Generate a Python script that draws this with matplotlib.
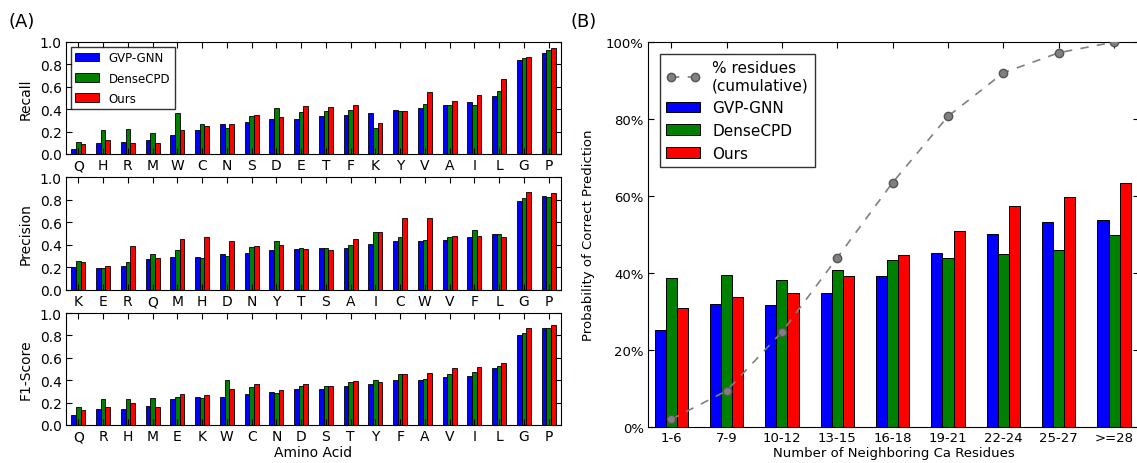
import matplotlib
matplotlib.use('Agg')
import matplotlib.pyplot as plt
import numpy as np

# Panel A: per-residue metrics
recall_aa = ['Q', 'H', 'R', 'M', 'W', 'C', 'N', 'S', 'D', 'E', 'T', 'F', 'K', 'Y', 'V', 'A', 'I', 'L', 'G', 'P']
recall_gvp = [0.045, 0.095, 0.11, 0.125, 0.17, 0.215, 0.27, 0.285, 0.315, 0.315, 0.335, 0.35, 0.365, 0.39, 0.415, 0.44, 0.465, 0.52, 0.84, 0.905]
recall_dense = [0.11, 0.21, 0.225, 0.19, 0.37, 0.27, 0.23, 0.335, 0.41, 0.375, 0.385, 0.395, 0.235, 0.38, 0.45, 0.44, 0.435, 0.56, 0.855, 0.93]
recall_ours = [0.09, 0.125, 0.10, 0.10, 0.215, 0.25, 0.265, 0.345, 0.33, 0.43, 0.42, 0.435, 0.28, 0.38, 0.55, 0.475, 0.53, 0.67, 0.865, 0.945]

prec_aa = ['K', 'E', 'R', 'Q', 'M', 'H', 'D', 'N', 'Y', 'T', 'S', 'A', 'I', 'C', 'W', 'V', 'F', 'L', 'G', 'P']
prec_gvp = [0.20, 0.195, 0.21, 0.275, 0.295, 0.295, 0.32, 0.33, 0.35, 0.365, 0.375, 0.375, 0.41, 0.43, 0.43, 0.44, 0.465, 0.50, 0.785, 0.835]
prec_dense = [0.255, 0.195, 0.245, 0.32, 0.355, 0.285, 0.305, 0.38, 0.43, 0.37, 0.375, 0.40, 0.51, 0.47, 0.445, 0.465, 0.535, 0.50, 0.81, 0.82]
prec_ours = [0.25, 0.21, 0.39, 0.28, 0.455, 0.465, 0.43, 0.39, 0.40, 0.365, 0.355, 0.455, 0.515, 0.635, 0.635, 0.48, 0.48, 0.47, 0.87, 0.86]

f1_aa = ['Q', 'R', 'H', 'M', 'E', 'K', 'W', 'C', 'N', 'D', 'S', 'T', 'Y', 'F', 'A', 'V', 'I', 'L', 'G', 'P']
f1_gvp = [0.085, 0.145, 0.145, 0.17, 0.235, 0.25, 0.25, 0.28, 0.295, 0.32, 0.32, 0.35, 0.365, 0.40, 0.40, 0.43, 0.435, 0.505, 0.805, 0.865]
f1_dense = [0.16, 0.23, 0.23, 0.24, 0.25, 0.24, 0.405, 0.34, 0.285, 0.35, 0.35, 0.38, 0.40, 0.455, 0.41, 0.455, 0.47, 0.53, 0.825, 0.87]
f1_ours = [0.135, 0.16, 0.20, 0.165, 0.28, 0.265, 0.32, 0.365, 0.315, 0.37, 0.35, 0.39, 0.385, 0.455, 0.465, 0.505, 0.52, 0.55, 0.87, 0.89]

# Panel B: accuracy by number of neighbours
bins = ['1-6', '7-9', '10-12', '13-15', '16-18', '19-21', '22-24', '25-27', '>=28']
gvp_b = [25.2, 31.9, 31.7, 34.8, 39.2, 45.2, 50.1, 53.2, 53.8]
dense_b = [38.7, 39.5, 38.2, 40.8, 43.4, 43.9, 44.9, 46.0, 49.9]
ours_b = [30.9, 33.8, 34.8, 39.2, 44.7, 50.9, 57.4, 59.7, 63.4]
cumulative = [2.0, 9.4, 24.7, 44.0, 63.5, 80.7, 92.0, 97.2, 100.0]

names = ['GVP-GNN', 'DenseCPD', 'Ours']
colors = ['#0000ff', '#008000', '#ff0000']

plt.rcParams['font.family'] = 'DejaVu Sans'
plt.rcParams['xtick.direction'] = 'in'
plt.rcParams['ytick.direction'] = 'in'
plt.rcParams['xtick.top'] = True
plt.rcParams['ytick.right'] = True

fig = plt.figure(figsize=(11.37, 4.64), dpi=100)
W, H = 1137.0, 464.0


def px_axes(x0, y0, x1, y1):
    return fig.add_axes([x0 / W, 1 - y1 / H, (x1 - x0) / W, (y1 - y0) / H])


rows = [
    (43, 155, recall_aa, recall_gvp, recall_dense, recall_ours, 'Recall'),
    (178, 291, prec_aa, prec_gvp, prec_dense, prec_ours, 'Precision'),
    (314, 426, f1_aa, f1_gvp, f1_dense, f1_ours, 'F1-Score'),
]
bw = 0.19
for i, (top, bot, aa, g, d, o, lab) in enumerate(rows):
    ax = px_axes(66, top, 561, bot)
    x = np.arange(len(aa))
    for k, vals in enumerate([g, d, o]):
        ax.bar(x + (k - 1) * bw, vals, bw, color=colors[k], edgecolor='black',
               linewidth=0.6, label=names[k])
    ax.set_xlim(-0.5, len(aa) - 0.5)
    ax.set_ylim(0, 1.0)
    ax.set_yticks(np.arange(0, 1.01, 0.2))
    ax.set_xticks(x)
    ax.set_xticklabels(aa)
    ax.tick_params(labelsize=10, length=4, pad=3)
    ax.set_ylabel(lab, fontsize=10)
    ax.yaxis.set_label_coords(-0.067, 0.5)
    if i == 0:
        ax.legend(loc='upper left', fontsize=8.5, frameon=True, fancybox=False,
                  edgecolor='black', handlelength=2.0, labelspacing=0.6,
                  borderaxespad=0.4)
    if i == 2:
        ax.set_xlabel('Amino Acid', fontsize=10, labelpad=1)

axb = px_axes(648, 43, 1139, 428)
xb = np.arange(len(bins))
bwb = 0.2
axb.plot(xb, cumulative, '--o', color='gray', markersize=6, markerfacecolor='gray',
         markeredgecolor='#555555', linewidth=1.2, dashes=(5, 5),
         label='% residues\n(cumulative)', zorder=3)
for k, vals in enumerate([gvp_b, dense_b, ours_b]):
    axb.bar(xb + (k - 1) * bwb, vals, bwb, color=colors[k], edgecolor='black',
            linewidth=0.7, label=names[k], zorder=2)
axb.set_xlim(-0.42, len(bins) - 1 + 0.45)
axb.set_ylim(0, 100)
axb.set_yticks(np.arange(0, 101, 20))
axb.set_yticklabels(['%d%%' % v for v in range(0, 101, 20)])
axb.set_xticks(xb)
axb.set_xticklabels(bins)
axb.tick_params(labelsize=9.5, length=4, pad=3)
axb.set_ylabel('Probability of Correct Prediction', fontsize=9.5)
axb.yaxis.set_label_coords(-0.107, 0.5)
axb.set_xlabel('Number of Neighboring Ca Residues', fontsize=9.5, labelpad=1)
axb.legend(loc='upper left', fontsize=11, frameon=True, fancybox=False,
           edgecolor='black', numpoints=2, handlelength=2.2, borderaxespad=0.8)

fig.text(8 / W, 1 - 22 / H, '(A)', fontsize=13, va='center', ha='left')
fig.text(570 / W, 1 - 22 / H, '(B)', fontsize=13, va='center', ha='left')

fig.savefig('out.png', dpi=100)
